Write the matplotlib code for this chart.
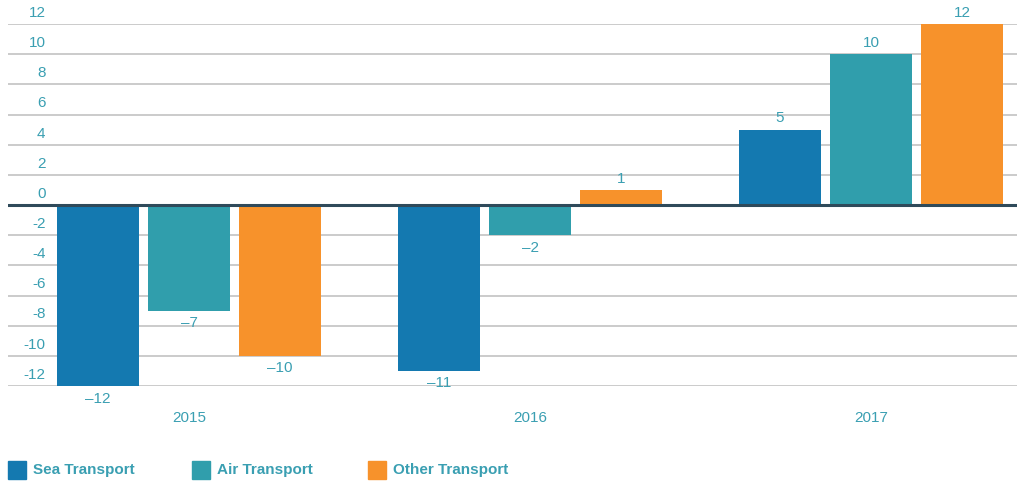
import numpy as np
import matplotlib.pyplot as plt

years = ['2015', '2016', '2017']
series = ['Sea Transport', 'Air Transport', 'Other Transport']
sea = [-12, -11, 5]
air = [-7, -2, 10]
other = [-10, 1, 12]
colors = ['#1479b0', '#309eac', '#f7922b']
yticks = [12, 10, 8, 6, 4, 2, 0, -2, -4, -6, -8, -10, -12]

txt = '#3a9fb2'
plt.rcParams['font.family'] = ['Liberation Sans', 'DejaVu Sans']

fig = plt.figure(figsize=(10.17, 4.82), dpi=100)
W, H = 1017, 482
ax = fig.add_axes([8 / W, 1 - 386 / H, 1 - 8 / W, (386 - 24) / H])

x = np.arange(len(years))
step = 91 / 341
width = 82 / 341
for i, vals in enumerate([sea, air, other]):
    pos = x + (i - 1) * step
    ax.bar(pos, vals, width=width, color=colors[i], zorder=2)
    for p, v in zip(pos, vals):
        lab = str(v).replace('-', '\u2013')
        if v >= 0:
            ax.annotate(lab, (p, v), xytext=(0, 3), textcoords='offset points',
                        ha='center', va='bottom', color=txt, fontsize=11)
        else:
            ax.annotate(lab, (p, v), xytext=(0, -4), textcoords='offset points',
                        ha='center', va='top', color=txt, fontsize=11)

ax.set_xlim(-181 / 341, 828 / 341)
ax.set_ylim(-12, 12)

for t in yticks:
    if t == 0:
        ax.axhline(0, color='#2f4a5a', lw=2.2, zorder=3)
    else:
        ax.axhline(t, color='#bdbdbd', lw=1.1, zorder=1)
    ax.annotate(str(t), (0, t), xycoords=('axes fraction', 'data'),
                xytext=(27, 3), textcoords='offset points',
                ha='right', va='bottom', color=txt, fontsize=11)

for xi, yr in zip(x, years):
    ax.annotate(yr, (xi, -12), xytext=(0, -18), textcoords='offset points',
                ha='center', va='top', color=txt, fontsize=11)

ax.set_xticks([])
ax.set_yticks([])
for s in ax.spines.values():
    s.set_visible(False)

# legend drawn by hand
leg_x = [8, 192, 368]
for lx, name, c in zip(leg_x, series, colors):
    fig.patches.append(plt.Rectangle((lx / W, 1 - 479 / H), 18 / W, 18 / H,
                                     color=c, transform=fig.transFigure))
    fig.text((lx + 25) / W, 1 - 470 / H, name, color=txt, fontsize=11,
             fontweight='bold', va='center', ha='left')

fig.savefig('out.png', dpi=100)
